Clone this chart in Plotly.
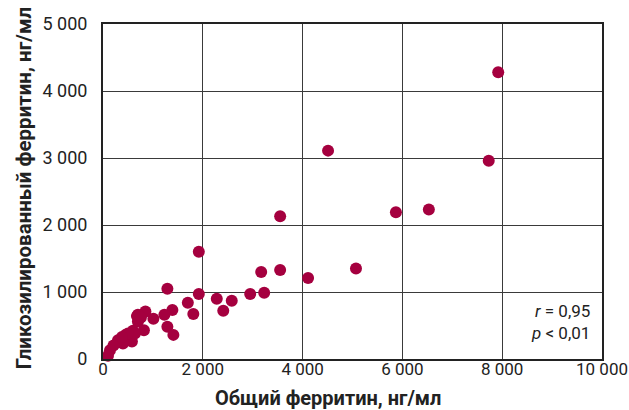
import plotly.graph_objects as go

# Общий и гликозилированный ферритин, нг/мл
total_ferritin = [7920, 7730, 4510, 3550, 5870, 6530, 1920, 1290, 3170, 3550,
                  5070, 4110, 3230, 2950, 1920, 1700, 2280, 2580, 2410, 1810,
                  1390, 1230, 1010, 850, 700, 700, 820, 1290, 1410, 600,
                  580, 450, 400, 300, 210, 140, 100, 640, 500, 680, 760, 380]
glyco_ferritin = [4280, 2960, 3110, 2130, 2190, 2230, 1600, 1050, 1300, 1330,
                  1350, 1210, 990, 970, 970, 840, 900, 870, 720, 670,
                  730, 660, 600, 710, 660, 560, 430, 480, 360, 420,
                  260, 360, 230, 280, 200, 130, 50, 380, 380, 640, 620, 330]

x_ticks = [0, 2000, 4000, 6000, 8000, 10000]
x_labels = ["0", "2 000", "4 000", "6 000", "8 000", "10 000"]
y_ticks = [0, 1000, 2000, 3000, 4000, 5000]
y_labels = ["0", "1 000", "2 000", "3 000", "4 000", "5 000"]

FONT = "Roboto"
GRID = "#3a3a3a"
TEXT = "#222"

fig = go.Figure()
fig.add_trace(go.Scatter(
    x=total_ferritin, y=glyco_ferritin, mode="markers",
    marker=dict(size=12, color="#a5003f", line=dict(width=0)),
    cliponaxis=False, showlegend=False,
))

fig.update_layout(
    width=629, height=410,
    margin=dict(l=103, r=27, t=24, b=51, autoexpand=False),
    paper_bgcolor="white", plot_bgcolor="white",
    font=dict(family=FONT, size=18, color=TEXT),
    xaxis=dict(
        range=[0, 10000], tickvals=x_ticks, ticktext=x_labels,
        tickfont=dict(size=17),
        showgrid=True, gridcolor=GRID, gridwidth=1.3,
        showline=True, linecolor=TEXT, linewidth=2, mirror=True,
        zeroline=False, ticks="", ticklabelstandoff=-6, automargin=False,
        ticklabeloverflow="allow",
    ),
    yaxis=dict(
        range=[0, 5000], tickvals=y_ticks, ticktext=y_labels,
        showgrid=True, gridcolor=GRID, gridwidth=1.3,
        showline=True, linecolor=TEXT, linewidth=2, mirror=True,
        zeroline=False, ticks="", ticklabelstandoff=10, automargin=False,
        ticklabeloverflow="allow",
    ),
    annotations=[
        dict(text="<b>Общий ферритин, нг/мл</b>", xref="paper", yref="paper",
             x=0.451, y=-0.158, xanchor="center", yanchor="bottom",
             showarrow=False, font=dict(family=FONT, size=20, color=TEXT)),
        dict(text="<b>Гликозилированный ферритин, нг/мл</b>", xref="paper", yref="paper",
             x=-0.158, y=0.51, xanchor="center", yanchor="middle", textangle=-90,
             showarrow=False, font=dict(family=FONT, size=20.5, color=TEXT)),
        dict(text="<i>r</i> = 0,95<br><i>p</i> < 0,01", xref="paper", yref="paper",
             x=0.98, y=0.179, xanchor="right", yanchor="top", align="right",
             showarrow=False, font=dict(family=FONT, size=17, color=TEXT)),
    ],
)

fig.write_html("out.html")
